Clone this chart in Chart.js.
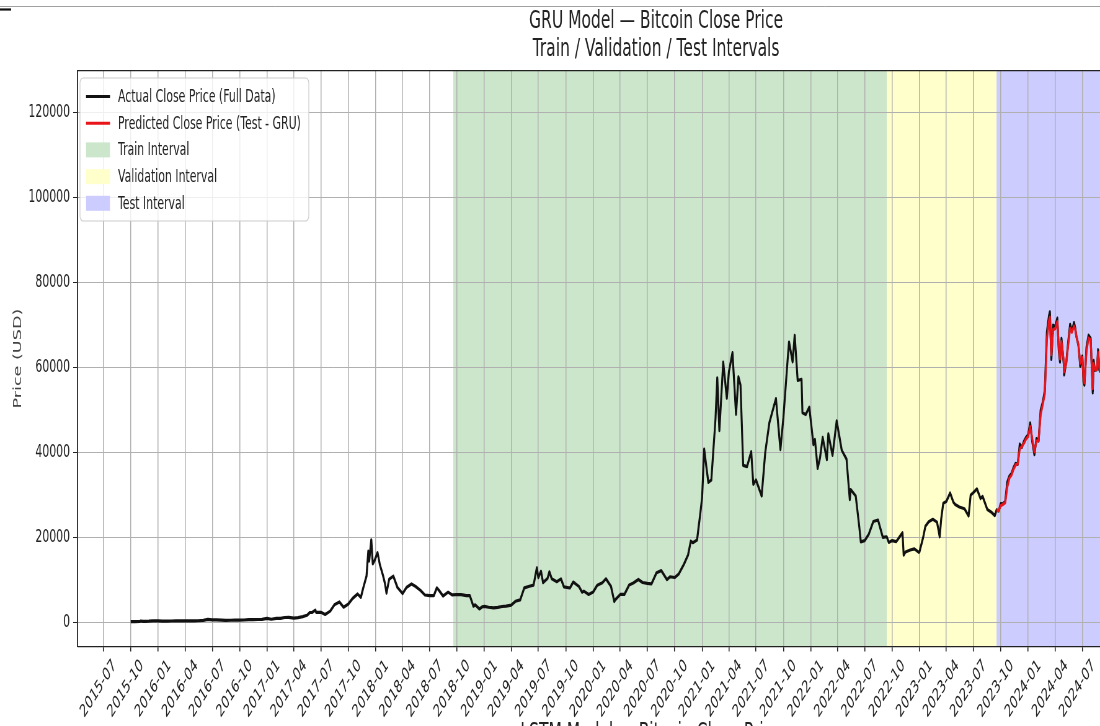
<!DOCTYPE html>
<html>
<head>
<meta charset="utf-8">
<title>GRU Model — Bitcoin Close Price</title>
<script src="https://cdn.jsdelivr.net/npm/chart.js@4.4.1/dist/chart.umd.min.js"></script>
<style>
  html, body { margin: 0; padding: 0; background: #fff; overflow: hidden; }
  #priceChart { display: block; }
</style>
</head>
<body>
<!-- drawn on a 1774px wide canvas and shown 1100px wide, so the figure comes out narrowed -->
<canvas id="priceChart" width="1774" height="726" style="width:1100px;height:726px"></canvas>
<script>
const FONT = "'DejaVu Sans', sans-serif";

// daily close, sampled (USD)
const closeDates = [
  '2015-10-01','2015-10-15','2015-11-01','2015-11-04','2015-11-11','2015-11-20','2015-12-01','2015-12-15',
  '2016-01-01','2016-01-15','2016-02-01','2016-02-15','2016-03-01','2016-03-15','2016-04-01','2016-04-15','2016-05-01','2016-05-15','2016-06-01','2016-06-16','2016-07-01','2016-07-15','2016-08-01','2016-08-15','2016-09-01','2016-09-15','2016-10-01','2016-10-15','2016-11-01','2016-11-15','2016-12-01','2016-12-15',
  '2017-01-01','2017-01-15','2017-02-01','2017-02-15','2017-03-01','2017-03-15','2017-04-01','2017-04-15','2017-05-01','2017-05-15','2017-05-25','2017-06-01','2017-06-12','2017-06-15','2017-07-01','2017-07-15','2017-08-01','2017-08-15','2017-09-01','2017-09-15','2017-10-01','2017-10-15','2017-11-01','2017-11-12','2017-11-20','2017-12-01','2017-12-07','2017-12-10','2017-12-17','2017-12-22','2017-12-28',
  '2018-01-07','2018-01-15','2018-01-25','2018-02-01','2018-02-06','2018-02-15','2018-03-01','2018-03-15','2018-04-01','2018-04-15','2018-05-01','2018-05-15','2018-06-01','2018-06-15','2018-07-01','2018-07-15','2018-07-25','2018-08-01','2018-08-15','2018-09-01','2018-09-15','2018-10-01','2018-10-15','2018-11-01','2018-11-13','2018-11-25','2018-12-01','2018-12-15','2018-12-25',
  '2019-01-01','2019-01-15','2019-02-01','2019-02-15','2019-03-01','2019-03-15','2019-04-01','2019-04-15','2019-05-01','2019-05-15','2019-06-01','2019-06-15','2019-06-26','2019-07-01','2019-07-10','2019-07-17','2019-08-01','2019-08-07','2019-08-15','2019-09-01','2019-09-15','2019-09-25','2019-10-15','2019-10-26','2019-11-01','2019-11-15','2019-11-25','2019-12-01','2019-12-17',
  '2020-01-01','2020-01-15','2020-02-01','2020-02-13','2020-03-01','2020-03-12','2020-03-15','2020-04-01','2020-04-15','2020-05-01','2020-05-15','2020-06-01','2020-06-15','2020-07-01','2020-07-15','2020-08-01','2020-08-17','2020-09-05','2020-09-15','2020-10-01','2020-10-15','2020-11-01','2020-11-15','2020-11-24','2020-12-01','2020-12-15','2020-12-27',
  '2021-01-01','2021-01-08','2021-01-15','2021-01-22','2021-02-01','2021-02-15','2021-02-21','2021-02-28','2021-03-13','2021-03-25','2021-04-01','2021-04-13','2021-04-25','2021-05-03','2021-05-10','2021-05-19','2021-06-01','2021-06-15','2021-06-22','2021-07-01','2021-07-20','2021-08-01','2021-08-15','2021-09-06','2021-09-21','2021-10-01','2021-10-15','2021-10-20','2021-11-01','2021-11-08','2021-11-18','2021-12-01','2021-12-04','2021-12-15','2021-12-27',
  '2022-01-10','2022-01-15','2022-01-24','2022-02-01','2022-02-10','2022-02-24','2022-03-01','2022-03-15','2022-03-29','2022-04-15','2022-05-01','2022-05-12','2022-05-15','2022-06-01','2022-06-13','2022-06-18','2022-07-01','2022-07-15','2022-07-30','2022-08-15','2022-08-31','2022-09-13','2022-09-20','2022-10-01','2022-10-15','2022-11-05','2022-11-09','2022-11-15','2022-12-01','2022-12-15','2022-12-30',
  '2023-01-01','2023-01-13','2023-01-21','2023-02-01','2023-02-15','2023-03-01','2023-03-10','2023-03-15','2023-03-22','2023-04-01','2023-04-14','2023-04-25','2023-05-01','2023-05-15','2023-06-01','2023-06-15','2023-06-22','2023-07-01','2023-07-13','2023-07-25','2023-08-01','2023-08-17','2023-09-01','2023-09-11'
];
const closePrice = [
  237,254,325,403,311,326,362,444,
  434,374,371,400,435,416,417,429,452,457,537,766,676,664,606,567,572,607,613,638,729,711,756,778,
  998,818,1007,1008,1222,1255,1080,1180,1422,1740,2400,2408,2950,2440,2434,1930,2718,4210,4892,3638,4403,5690,6750,5950,8200,10975,16860,14500,19497,13830,14600,
  16477,13582,11200,9170,6955,10233,10951,8260,6845,8355,9119,8504,7541,6513,6386,6350,8200,7618,6275,7193,6520,6625,6596,6377,6350,3880,4214,3236,3747,
  3843,3630,3487,3620,3814,3905,4143,5036,5351,8200,8575,8838,12900,10583,12100,9400,10400,11960,10312,9630,10306,8430,8161,9550,9261,8467,7150,7424,6640,
  7200,8820,9392,10326,8545,4970,5361,6640,6640,8864,9316,10167,9450,9232,9133,11759,12250,10130,10797,10620,11500,13737,15955,19160,18803,19426,26280,
  29374,40797,36825,33000,33537,47937,57539,45140,61243,52774,59000,63503,49004,57800,55860,37002,36684,40218,32505,33572,29807,39974,47047,52697,40693,48199,61553,65993,61318,67566,56940,57229,49368,48924,50640,
  41860,43097,36276,38743,43565,38332,44421,39338,47465,40554,38469,28936,31305,29799,22487,19018,19297,20836,23800,24136,20050,20200,18870,19312,19068,21150,15880,16618,17090,17364,16547,
  16625,19930,22700,23723,24300,23647,20187,24373,28100,28478,30485,28300,27800,27200,26800,25100,30000,30600,31476,29200,29700,26600,25900,25160
];

// test window: actual close and GRU prediction on the same dates
const testDates = [
  '2023-09-17','2023-09-24','2023-10-01','2023-10-08','2023-10-16','2023-10-23','2023-10-30','2023-11-06','2023-11-13','2023-11-20','2023-11-27','2023-12-04','2023-12-11','2023-12-18','2023-12-25',
  '2024-01-01','2024-01-08','2024-01-15','2024-01-22','2024-01-29','2024-02-05','2024-02-12','2024-02-19','2024-02-26','2024-03-04','2024-03-11','2024-03-14','2024-03-19','2024-03-25',
  '2024-04-01','2024-04-08','2024-04-13','2024-04-17','2024-04-22','2024-04-30','2024-05-01','2024-05-08','2024-05-15','2024-05-21','2024-05-27','2024-06-03','2024-06-07','2024-06-11','2024-06-18','2024-06-24',
  '2024-07-01','2024-07-05','2024-07-08','2024-07-15','2024-07-22','2024-07-29','2024-08-05','2024-08-08','2024-08-12','2024-08-19','2024-08-23','2024-08-27','2024-08-31'
];
const testClose = [
  26530,26250,27980,27940,28520,33090,34500,35040,36490,37480,37250,41990,41240,42660,43610,
  44180,46970,42510,39510,43300,42710,49960,51780,54520,68330,72120,73080,61910,69960,
  69650,71620,63900,61280,66840,60610,58250,61190,66270,70140,68510,70570,69360,67320,65160,60280,
  62680,56660,55850,64760,67590,66820,54020,61700,59350,59490,64180,59440,58970
];
const predictedPrice = [
  26300,26400,27500,27800,28200,31900,34000,34700,36100,37100,37300,40900,41400,42200,43200,
  43800,46100,43100,40200,42700,42800,48900,51300,53800,66700,70900,71800,63000,68900,
  69100,70800,64600,62000,66100,61200,59000,61000,65600,69200,68300,69700,69000,67400,65300,61000,
  62300,57500,56400,63900,66900,66500,55000,60900,59600,59500,63500,59900,59100
];

const intervalNames = ['Train Interval', 'Validation Interval', 'Test Interval'];
const intervalStarts = ['2018-09-18', '2022-09-13', '2023-09-17'];
const intervalEnds = ['2022-09-13', '2023-09-17', '2025-07-03'];

const xTickLabels = [
  '2015-07','2015-10','2016-01','2016-04','2016-07','2016-10','2017-01','2017-04','2017-07','2017-10',
  '2018-01','2018-04','2018-07','2018-10','2019-01','2019-04','2019-07','2019-10','2020-01','2020-04',
  '2020-07','2020-10','2021-01','2021-04','2021-07','2021-10','2022-01','2022-04','2022-07','2022-10',
  '2023-01','2023-04','2023-07','2023-10','2024-01','2024-04','2024-07'
];
const priceTicks = [0, 20000, 40000, 60000, 80000, 100000, 120000];

const titleLines = ['GRU Model \u2014 Bitcoin Close Price', 'Train / Validation / Test Intervals'];
const nextTitle = 'LSTM Model \u2014 Bitcoin Close Price';

// colours
const spanColors = ['#cce6cc', '#ffffcc', '#ccccff'];
const actualColor = '#111111';
const predictedColor = '#e8141a';
const textColor = '#222222';

// 'YYYY-MM[-DD]' -> days since epoch, used as the x value everywhere
function toDay(s) {
  const p = s.split('-').map(Number);
  return Date.UTC(p[0], p[1] - 1, p[2] || 1) / 864e5;
}

const actualPoints = closeDates.concat(testDates).map((d, i) => ({
  x: toDay(d), y: closePrice.concat(testClose)[i]
}));
const predictedPoints = testDates.map((d, i) => ({ x: toDay(d), y: predictedPrice[i] }));

// coloured train / validation / test bands behind the grid
const intervalBands = {
  id: 'intervalBands',
  beforeDraw(chart) {
    const { ctx, chartArea: a, scales: { x } } = chart;
    ctx.save();
    ctx.beginPath();
    ctx.rect(a.left, a.top, a.right - a.left, a.bottom - a.top);
    ctx.clip();
    intervalStarts.forEach((start, i) => {
      const x0 = x.getPixelForValue(toDay(start));
      const x1 = x.getPixelForValue(toDay(intervalEnds[i]));
      ctx.fillStyle = spanColors[i];
      ctx.fillRect(x0, a.top, x1 - x0, a.bottom - a.top);
    });
    ctx.restore();
  }
};

// titles, top frame line and the legend box
const figureDecor = {
  id: 'figureDecor',
  afterDraw(chart) {
    const { ctx, chartArea: a, width } = chart;
    ctx.save();

    // thin rule and short dark mark along the very top
    ctx.strokeStyle = '#a0a0a0';
    ctx.lineWidth = 1;
    ctx.beginPath(); ctx.moveTo(0, 6.5); ctx.lineTo(width, 6.5); ctx.stroke();
    ctx.strokeStyle = '#111';
    ctx.lineWidth = 2.2;
    ctx.beginPath(); ctx.moveTo(0, 9.5); ctx.lineTo(18, 9.5); ctx.stroke();

    // top spine
    ctx.strokeStyle = '#222';
    ctx.lineWidth = 1.2;
    ctx.beginPath(); ctx.moveTo(a.left, a.top); ctx.lineTo(a.right, a.top); ctx.stroke();

    // title, plus the start of the next figure's title at the bottom
    ctx.fillStyle = textColor;
    ctx.font = `25px ${FONT}`;
    ctx.textAlign = 'center';
    ctx.textBaseline = 'alphabetic';
    ctx.fillText(titleLines[0], 1058, 28);
    ctx.fillText(titleLines[1], 1058, 56);
    ctx.fillText(nextTitle, 1050, 740);

    // legend
    const box = { left: 129, top: 78, right: 498, bottom: 221 };
    ctx.fillStyle = 'rgba(255,255,255,0.8)';
    ctx.strokeStyle = '#cccccc';
    ctx.lineWidth = 1.2;
    ctx.beginPath();
    ctx.roundRect(box.left, box.top, box.right - box.left, box.bottom - box.top, 5);
    ctx.fill();
    ctx.stroke();

    const items = [
      ...chart.data.datasets.map(ds => ({ label: ds.label, line: ds.borderColor })),
      ...intervalNames.map((n, i) => ({ label: n, fill: spanColors[i] }))
    ];
    ctx.font = `17.6px ${FONT}`;
    ctx.textAlign = 'left';
    ctx.textBaseline = 'middle';
    items.forEach((it, i) => {
      const y = 96.5 + i * 26.7;
      if (it.line) {
        ctx.strokeStyle = it.line;
        ctx.lineWidth = 3;
        ctx.beginPath(); ctx.moveTo(138.7, y); ctx.lineTo(177.4, y); ctx.stroke();
      } else {
        ctx.fillStyle = it.fill;
        ctx.fillRect(138.7, y - 7.5, 38.7, 15);
      }
      ctx.fillStyle = textColor;
      ctx.fillText(it.label, 190.3, y + 1);
    });

    ctx.restore();
  }
};

new Chart(document.getElementById('priceChart'), {
  type: 'line',
  data: {
    datasets: [
      {
        label: 'Actual Close Price (Full Data)',
        data: actualPoints,
        borderColor: actualColor,
        borderWidth: 3.2,
        borderJoinStyle: 'round',
        pointRadius: 0,
        order: 1
      },
      {
        label: 'Predicted Close Price (Test - GRU)',
        data: predictedPoints,
        borderColor: predictedColor,
        borderWidth: 3.2,
        borderJoinStyle: 'round',
        pointRadius: 0,
        order: 0
      }
    ]
  },
  options: {
    responsive: false,
    devicePixelRatio: 1,
    animation: false,
    events: [],
    layout: { padding: { top: 70.7, right: 0, bottom: 0, left: 0 } },
    plugins: {
      legend: { display: false },
      tooltip: { enabled: false }
    },
    scales: {
      x: {
        type: 'linear',
        min: toDay('2015-04-06'),
        max: toDay('2024-08-29') + 0.4,
        afterBuildTicks: scale => { scale.ticks = xTickLabels.map(l => ({ value: toDay(l) })); },
        afterFit: scale => { scale.height = 79.5; },
        ticks: {
          autoSkip: false,
          minRotation: 45,
          maxRotation: 45,
          labelOffset: 18,
          padding: 4,
          color: textColor,
          font: { family: FONT, size: 17.6 },
          callback: (value, index) => xTickLabels[index]
        },
        grid: { color: '#b0b0b0', lineWidth: 1.5, tickLength: 5, tickColor: '#222', tickWidth: 1.6 },
        border: { color: '#222', width: 1.2 }
      },
      y: {
        type: 'linear',
        min: -5596,
        max: 129781,
        afterBuildTicks: scale => { scale.ticks = priceTicks.map(v => ({ value: v })); },
        afterFit: scale => { scale.width = 125.3; },
        ticks: {
          padding: 5,
          color: textColor,
          font: { family: FONT, size: 17.6 },
          callback: value => String(value)
        },
        grid: { color: '#b0b0b0', lineWidth: 1, tickLength: 7.3, tickColor: '#222', tickWidth: 1 },
        border: { color: '#222', width: 1.8 },
        title: {
          display: true,
          text: 'Price (USD)',
          color: '#444',
          font: { family: FONT, size: 17.6 },
          padding: { top: 18.4, bottom: 0 }
        }
      }
    }
  },
  plugins: [intervalBands, figureDecor]
});
</script>
</body>
</html>
